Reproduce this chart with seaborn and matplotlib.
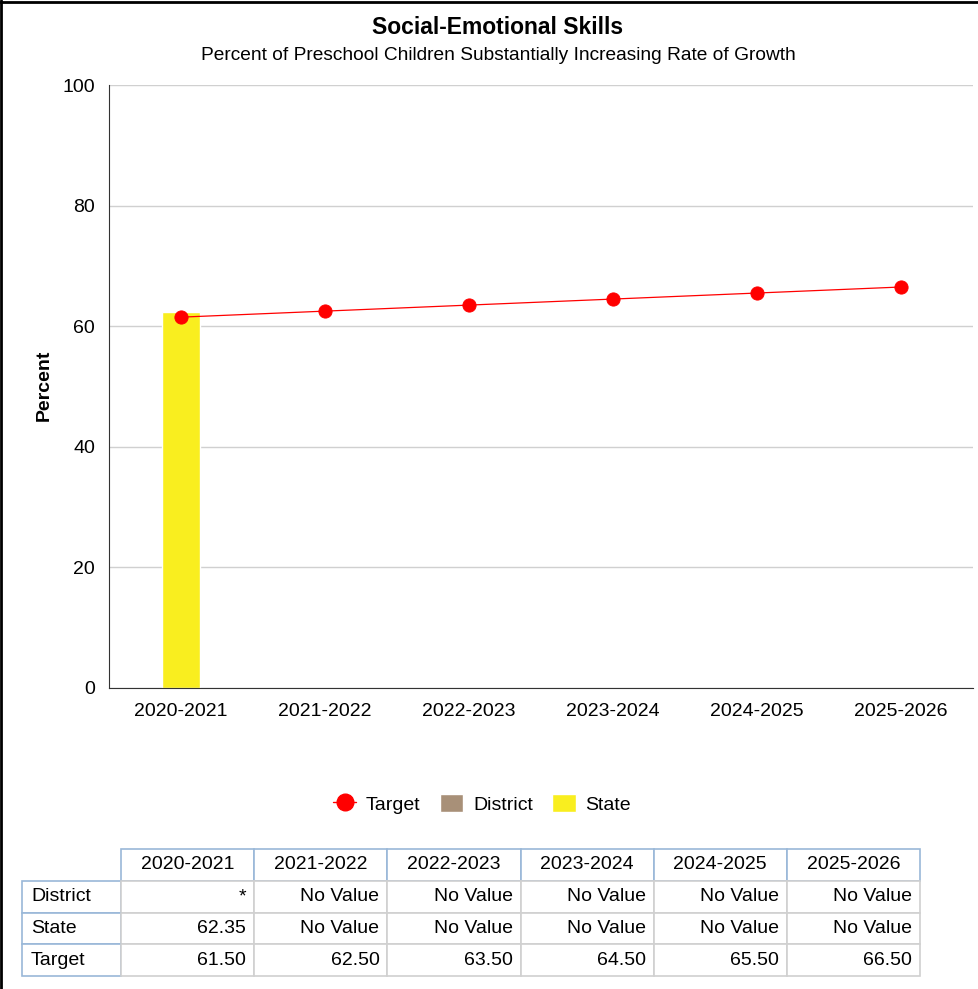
import numpy as np
import pandas as pd
import matplotlib
matplotlib.use("Agg")
import matplotlib.pyplot as plt
import seaborn as sns
from matplotlib.lines import Line2D
from matplotlib.patches import Patch

seasons = ["2020-2021", "2021-2022", "2022-2023", "2023-2024", "2024-2025", "2025-2026"]
target = [61.50, 62.50, 63.50, 64.50, 65.50, 66.50]
state = [62.35, np.nan, np.nan, np.nan, np.nan, np.nan]
district_text = ["*", "No Value", "No Value", "No Value", "No Value", "No Value"]
state_text = ["62.35", "No Value", "No Value", "No Value", "No Value", "No Value"]
target_text = ["61.50", "62.50", "63.50", "64.50", "65.50", "66.50"]
row_names = ["District", "State", "Target"]
y_ticks = [0, 20, 40, 60, 80, 100]

red = "#ff0000"
tan = "#a89078"
yellow = "#f9ee1f"
blue_edge = "#9ab8d8"
gray_edge = "#d0d0d0"

sns.set_style("white")
plt.rcParams["font.family"] = ["Liberation Sans", "DejaVu Sans"]
plt.rcParams["text.color"] = "black"
plt.rcParams["xtick.color"] = "black"
plt.rcParams["ytick.color"] = "black"

df = pd.DataFrame({"Season": seasons, "Target": target, "State": state})

fig = plt.figure(figsize=(9.79, 9.89), dpi=100)
W, H = 979, 989
ax = fig.add_axes([109 / W, 1 - 688 / H, 864 / W, 603 / H])

sns.barplot(data=df, x="Season", y="State", order=seasons, color=yellow,
            width=0.27, saturation=1, ax=ax, zorder=2)
sns.pointplot(data=df, x="Season", y="Target", order=seasons, color=red,
              markers="o", markersize=9.5, linewidth=0.9, ax=ax, zorder=3)

ax.set_xlim(-0.5, 5.5)
ax.set_ylim(0, 100)
ax.set_yticks(y_ticks)
ax.set_xlabel("")
ax.set_ylabel("")
ax.yaxis.grid(True, color="#d0d0d0", linewidth=1, zorder=0)
ax.set_axisbelow(True)
for s in ["top", "right"]:
    ax.spines[s].set_visible(False)
ax.spines["left"].set_color("#333333")
ax.spines["bottom"].set_color("#333333")
ax.tick_params(axis="both", labelsize=14, length=0)
ax.tick_params(axis="x", pad=11)
ax.tick_params(axis="y", pad=10)

fig.text(44 / W, 1 - 385 / H, "Percent", rotation=90, ha="center", va="center",
         fontsize=14, fontweight="bold")
fig.text(498 / W, 1 - 27 / H, "Social-Emotional Skills", ha="center", va="center",
         fontsize=16.5, fontweight="bold")
fig.text(498 / W, 1 - 55 / H, "Percent of Preschool Children Substantially Increasing Rate of Growth",
         ha="center", va="center", fontsize=13.8)

handles = [
    Line2D([0], [0], color=red, marker="o", markersize=12, linewidth=1),
    Patch(facecolor=tan),
    Patch(facecolor=yellow),
]
fig.legend(handles, ["Target", "District", "State"], loc="center",
           bbox_to_anchor=(482 / W, 1 - 804 / H), ncol=3, frameon=False,
           fontsize=14, handlelength=1.2, handleheight=1.0, handletextpad=0.5,
           columnspacing=1.0)

# data table: first column holds the row names, header row starts with an empty cell
tax = fig.add_axes([22 / W, 1 - 976 / H, 898 / W, 127 / H])
tax.axis("off")
rows = [[""] + seasons]
for name, vals in zip(row_names, [district_text, state_text, target_text]):
    rows.append([name] + vals)
tbl = tax.table(cellText=rows, cellLoc="right", loc="lower left", bbox=[0, 0, 1, 1])
tbl.auto_set_font_size(False)
tbl.set_fontsize(14)
col_w = [99 / 898] + [133 / 898] * 6
for (r, c), cell in tbl.get_celld().items():
    cell.set_linewidth(1.2)
    cell.set_width(col_w[c])
    cell.set_height(0.25)
    cell.PAD = 0.06
    if r == 0:
        cell.get_text().set_horizontalalignment("center")
        cell._loc = "center"
    elif c == 0:
        cell._loc = "left"
        cell.get_text().set_horizontalalignment("left")
        cell.PAD = 0.09
    if r == 0 and c == 0:
        cell.visible_edges = ""
    elif r == 0 or c == 0:
        cell.set_edgecolor(blue_edge)
        cell.set_zorder(2)
    else:
        cell.set_edgecolor(gray_edge)

fig.add_artist(Line2D([0.001, 0.001], [0, 1], color="black", linewidth=2,
                      transform=fig.transFigure))
fig.add_artist(Line2D([0, 1], [0.998, 0.998], color="black", linewidth=2,
                      transform=fig.transFigure))

fig.savefig("out.png", dpi=100)
